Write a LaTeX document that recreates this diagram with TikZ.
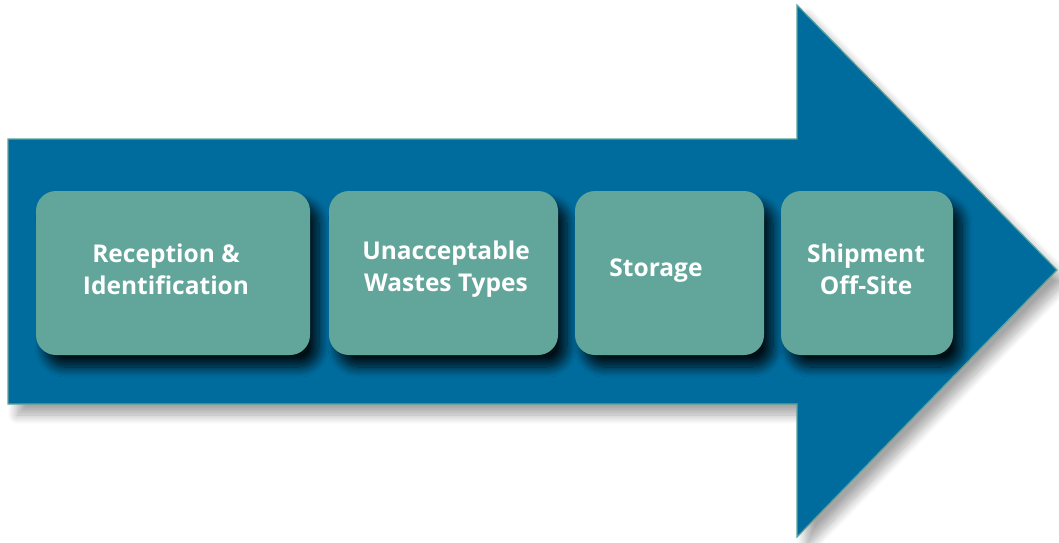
\documentclass[tikz,border=0pt]{standalone}
\usepackage{fontspec}
\setmainfont{Open Sans}
\usetikzlibrary{shadows.blur}

\definecolor{arrowblue}{RGB}{0,108,158}
\definecolor{edgeteal}{RGB}{95,163,154}
\definecolor{boxteal}{RGB}{98,165,154}

\tikzset{
    stage/.style={draw=none, fill=boxteal, rounded corners=20pt, inner sep=0pt,
        minimum height=164pt,
        blur shadow={shadow xshift=9pt, shadow yshift=-12pt, shadow blur radius=10pt,
            shadow opacity=85, shadow blur steps=14}},
    stagetext/.style={text=white, font=\bfseries\fontsize{24.5}{32}\selectfont,
        align=center, inner sep=0pt},
}

\begin{document}
\begin{tikzpicture}[x=1pt, y=-1pt]

    \useasboundingbox (0,0) rectangle (1059,542);

    % BIG ARROW
    \draw[edgeteal, line width=1.2pt, fill=arrowblue,
          blur shadow={shadow xshift=9pt, shadow yshift=-11pt, shadow blur radius=9pt,
              shadow opacity=35, shadow blur steps=14}]
        (8,139) -- (797,139) -- (797,5) -- (1057,270) -- (797,537)
        -- (797,404) -- (8,404) -- cycle;

    % STAGES
    \node[stage, minimum width=274pt] (reception) at (173,273) {};
    \node[stage, minimum width=229pt] (unacceptable) at (443.5,273) {};
    \node[stage, minimum width=189pt] (storage) at (669.5,273) {};
    \node[stage, minimum width=172pt] (shipment) at (867,273) {};

    % LABELS
    \node[stagetext] (receptiontext) at (166,269) {Reception \&\\Identification};
    \node[stagetext] (unacceptabletext) at (446,269) {Unacceptable\\Wastes Types};
    \node[stagetext] (storagetext) at (656,271) {Storage};
    \node[stagetext] (shipmenttext) at (866,269) {Shipment\\Off-Site};

\end{tikzpicture}
\end{document}
